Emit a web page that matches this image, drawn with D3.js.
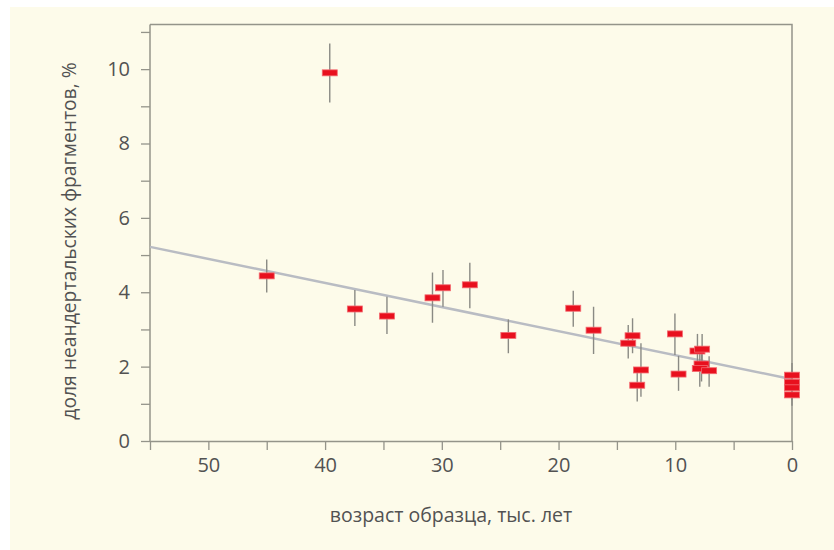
<!DOCTYPE html>
<html>
<head>
<meta charset="utf-8">
<script src="https://cdn.jsdelivr.net/npm/d3@7"></script>
<style>
  html, body { margin: 0; padding: 0; background: #ffffff; }
  svg { display: block; }
  text { font-family: "Open Sans", "Noto Sans", sans-serif; fill: #525252; }
</style>
</head>
<body>
<svg id="chart" width="834" height="550"></svg>
<script>
// sample age (thousand years), share of Neanderthal fragments (%), error bar low / high
var ages   = [45.0, 39.6, 37.45, 34.7, 30.8, 29.9, 27.6, 24.3, 18.74, 17.0,
              14.03, 13.66, 12.94, 13.26, 10.03, 9.72, 8.1, 7.7, 7.75, 7.9, 7.1,
              0, 0, 0, 0];
var shares = [4.44, 9.90, 3.55, 3.36, 3.85, 4.12, 4.20, 2.84, 3.57, 2.98,
              2.63, 2.83, 1.91, 1.50, 2.88, 1.80, 2.42, 2.47, 2.07, 1.95, 1.89,
              1.77, 1.58, 1.43, 1.24];
var errLow  = [3.99, 9.10, 3.09, 2.88, 3.18, 3.61, 3.57, 2.36, 3.07, 2.34,
               2.22, 2.36, 1.19, 1.06, 2.31, 1.35, 1.97, 2.05, 1.60, 1.46, 1.46,
               1.45, 1.25, 1.10, 0.95];
var errHigh = [4.88, 10.69, 4.06, 3.88, 4.53, 4.60, 4.79, 3.27, 4.04, 3.61,
               3.12, 3.30, 2.63, 1.95, 3.43, 2.29, 2.88, 2.88, 2.50, 2.40, 2.28,
               2.10, 1.90, 1.75, 1.55];

// regression line end points [age, share]
var trendAges   = [55, 0];
var trendShares = [5.22, 1.66];

var xMajorTicks = [50, 40, 30, 20, 10, 0];
var xMinorTicks = [55, 45, 35, 25, 15, 5];
var yMajorTicks = [0, 2, 4, 6, 8, 10];
var yMinorTicks = [1, 3, 5, 7, 9, 11];

var xLabel = 'возраст образца, тыс. лет';
var yLabel = 'доля неандертальских фрагментов, %';

(function () {
    'use strict';

    var svg = d3.select('#chart');
    var left = 150, right = 792, top = 24.5, bottom = 441;
    var axisColor = '#94948a';

    svg.append('rect')
        .attr('x', 10).attr('y', 7)
        .attr('width', 834).attr('height', 550)
        .attr('fill', '#fdfbea');

    var x = d3.scaleLinear().domain([55, 0]).range([left, right]);
    var y = d3.scaleLinear().domain([0, 11.2]).range([bottom, top]);

    // frame: top and right edges
    svg.append('path')
        .attr('d', 'M' + left + ',' + top + 'H' + right + 'V' + bottom)
        .attr('fill', 'none')
        .attr('stroke', axisColor)
        .attr('stroke-width', 1.5);

    var xAxis = d3.axisBottom(x)
        .tickValues(xMajorTicks.concat(xMinorTicks))
        .tickSize(9)
        .tickPadding(8)
        .tickSizeOuter(0)
        .tickFormat(function (d) { return xMajorTicks.indexOf(d) != -1 ? d : ''; });

    var yAxis = d3.axisLeft(y)
        .tickValues(yMajorTicks.concat(yMinorTicks))
        .tickSize(9)
        .tickPadding(11)
        .tickSizeOuter(0)
        .tickFormat(function (d) { return yMajorTicks.indexOf(d) != -1 ? d : ''; });

    var gx = svg.append('g')
        .attr('transform', 'translate(0,' + bottom + ')')
        .call(xAxis);
    var gy = svg.append('g')
        .attr('transform', 'translate(' + left + ',0)')
        .call(yAxis);

    [gx, gy].forEach(function (g) {
        g.select('.domain').attr('stroke', axisColor).attr('stroke-width', 1.5);
        g.selectAll('.tick line').attr('stroke', axisColor).attr('stroke-width', 1.3);
        g.selectAll('.tick text')
            .attr('fill', '#525252')
            .style('font-family', '"Open Sans", sans-serif')
            .style('font-size', '20px');
    });
    // y domain reaches the frame top
    gy.select('.domain').attr('d', 'M0,' + bottom + 'V' + top);

    // regression line
    var line = d3.line()
        .x(function (d) { return x(d[0]); })
        .y(function (d) { return y(d[1]); });
    svg.append('path')
        .datum(d3.zip(trendAges, trendShares))
        .attr('d', line)
        .attr('fill', 'none')
        .attr('stroke', '#b9bcc3')
        .attr('stroke-width', 2.5);

    var points = ages.map(function (a, i) {
        return {age: a, share: shares[i], lo: errLow[i], hi: errHigh[i]};
    });

    // error bars
    svg.append('g').selectAll('line')
        .data(points)
        .enter().append('line')
        .attr('x1', function (d) { return x(d.age); })
        .attr('x2', function (d) { return x(d.age); })
        .attr('y1', function (d) { return y(d.lo); })
        .attr('y2', function (d) { return y(d.hi); })
        .attr('stroke', '#8a8a84')
        .attr('stroke-width', 1.4);

    // markers
    var mw = 15, mh = 6;
    svg.append('g').selectAll('rect')
        .data(points)
        .enter().append('rect')
        .attr('x', function (d) { return x(d.age) - mw / 2; })
        .attr('y', function (d) { return y(d.share) - mh / 2; })
        .attr('width', mw)
        .attr('height', mh)
        .attr('fill', '#e8101e')
        .attr('stroke', '#f36a70')
        .attr('stroke-width', 0.8);

    // axis titles
    svg.append('text')
        .attr('x', 451).attr('y', 522)
        .attr('text-anchor', 'middle')
        .style('font-size', '19.5px')
        .text(xLabel);

    svg.append('text')
        .attr('transform', 'translate(76,241) rotate(-90)')
        .attr('text-anchor', 'middle')
        .style('font-size', '19.3px')
        .text(yLabel);
})();
</script>
</body>
</html>
